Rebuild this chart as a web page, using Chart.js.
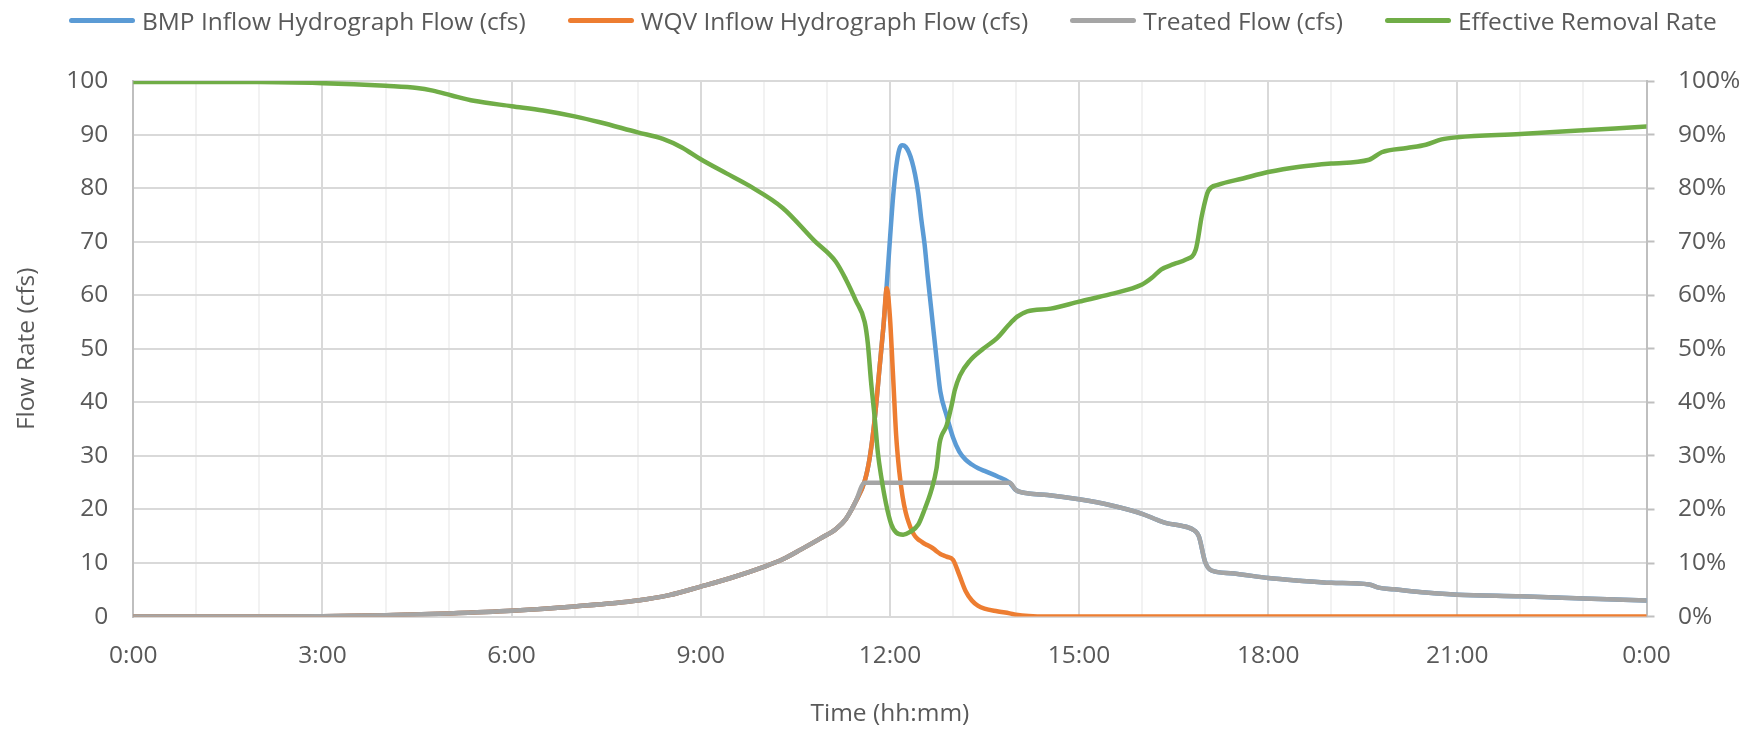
<!DOCTYPE html>
<html>
<head>
<meta charset="utf-8">
<title>BMP Hydrograph</title>
<script src="https://cdn.jsdelivr.net/npm/chart.js@4.4.1/dist/chart.umd.min.js"></script>
<style>
    html, body { margin: 0; padding: 0; background: #fff; }
    .chart-wrap { position: relative; width: 1742px; height: 732px; }
    #legend {
        position: absolute; top: 5px; left: 69px; height: 30px;
        margin: 0; padding: 0; list-style: none;
        display: flex; align-items: center; white-space: nowrap;
        font: 24.5px 'Open Sans', sans-serif; color: #595959;
    }
    #legend li { display: flex; align-items: center; margin-right: 42px; }
    #legend .swatch { width: 66px; height: 5px; border-radius: 3px; margin-right: 7px; }
</style>
</head>
<body>
<div class="chart-wrap">
    <ul id="legend"></ul>
    <canvas id="chart"></canvas>
</div>
<script>
// time of day in hours, shared by the three flow series
const flowHours = [
    0, 2, 3, 4, 5, 6, 7, 8, 8.5, 9,
    9.5, 10, 10.3, 10.6, 10.9, 11.15, 11.3, 11.45, 11.6, 11.68,
    11.76, 11.84, 11.9, 11.95, 12, 12.05, 12.1, 12.15, 12.2, 12.25,
    12.3, 12.35, 12.4, 12.45, 12.5, 12.55, 12.6, 12.65, 12.7, 12.75,
    12.8, 12.9, 13, 13.1, 13.2, 13.3, 13.4, 13.5, 13.7, 13.9,
    14, 14.2, 14.5, 15, 15.5, 16, 16.25, 16.4, 16.6, 16.8,
    16.9, 17, 17.1, 17.4, 18, 18.5, 19, 19.6, 19.75, 20,
    20.5, 21, 22, 23, 24
];

// cfs
const bmpInflow = [
    0, 0, 0.05, 0.25, 0.6, 1.1, 1.9, 3.0, 4.0, 5.6,
    7.3, 9.3, 10.7, 12.6, 14.6, 16.4, 18.2, 21.3, 25.3, 29.7,
    37, 47, 54.5, 62, 70.3, 78.3, 84, 87.3, 88, 87.7,
    86.7, 85, 82.5, 79, 74, 69.5, 63.5, 58, 52.5, 47,
    42, 37.5, 33.5, 30.8, 29.3, 28.4, 27.7, 27.2, 26.2, 25,
    23.6, 23.0, 22.7, 21.9, 20.8, 19.2, 18.0, 17.4, 17.0, 16.3,
    15.0, 10.2, 8.6, 8.1, 7.2, 6.7, 6.3, 6.0, 5.4, 5.1,
    4.5, 4.1, 3.8, 3.4, 3.0
];

const wqvInflow = [
    0, 0, 0.05, 0.25, 0.6, 1.1, 1.9, 3.0, 4.0, 5.6,
    7.3, 9.3, 10.7, 12.6, 14.6, 16.4, 18.2, 21.3, 25.3, 29.7,
    37, 47, 54.5, 61.3, 56, 45, 33.7, 27, 22.5, 19.5,
    17.5, 16.0, 15.0, 14.4, 14.0, 13.6, 13.3, 13.0, 12.6, 12.1,
    11.7, 11.2, 10.6, 7.8, 4.8, 3.0, 2.0, 1.5, 1.0, 0.6,
    0.35, 0.1, 0, 0, 0, 0, 0, 0, 0, 0,
    0, 0, 0, 0, 0, 0, 0, 0, 0, 0,
    0, 0, 0, 0, 0
];

const treatedFlow = [
    0, 0, 0.05, 0.25, 0.6, 1.1, 1.9, 3.0, 4.0, 5.6,
    7.3, 9.3, 10.7, 12.6, 14.6, 16.4, 18.2, 21.3, 25, 25,
    25, 25, 25, 25, 25, 25, 25, 25, 25, 25,
    25, 25, 25, 25, 25, 25, 25, 25, 25, 25,
    25, 25, 25, 25, 25, 25, 25, 25, 25, 25,
    23.6, 23.0, 22.7, 21.9, 20.8, 19.2, 18.0, 17.4, 17.0, 16.3,
    15.0, 10.2, 8.6, 8.1, 7.2, 6.7, 6.3, 6.0, 5.4, 5.1,
    4.5, 4.1, 3.8, 3.4, 3.0
];

// removal rate has its own time steps (percent)
const removalHours = [
    0, 1, 2, 3, 3.5, 4, 4.5, 4.75, 5.05, 5.4,
    6, 6.5, 7, 7.4, 8, 8.4, 8.7, 9, 9.4, 9.76,
    10.3, 10.8, 11.14, 11.3, 11.46, 11.6, 11.65, 11.7, 11.76, 11.81,
    11.86, 11.94, 12.02, 12.1, 12.21, 12.32, 12.45, 12.55, 12.66, 12.74,
    12.79, 12.9, 12.98, 13.03, 13.11, 13.27, 13.48, 13.7, 13.88, 14.02,
    14.18, 14.55, 15, 15.5, 16, 16.15, 16.3, 16.5, 16.7, 16.85,
    16.95, 17.05, 17.2, 17.6, 18, 18.5, 19, 19.6, 19.8, 20.2,
    20.5, 20.75, 21, 22, 23, 24
];

const removalRate = [
    99.8, 99.8, 99.8, 99.6, 99.4, 99.1, 98.7, 98.2, 97.3, 96.3,
    95.3, 94.5, 93.4, 92.3, 90.4, 89.2, 87.6, 85.4, 82.8, 80.5,
    76.3, 70.2, 66.3, 63.0, 59.0, 55.0, 51.0, 44.0, 37.0, 30.5,
    26.3, 21.0, 17.3, 15.7, 15.3, 15.8, 17.2, 20.0, 23.7, 27.7,
    32.5, 35.7, 39.5, 42.3, 45.0, 47.8, 50.0, 52.0, 54.4, 56.0,
    57.0, 57.5, 58.8, 60.2, 62.0, 63.2, 64.8, 65.8, 66.7, 68.5,
    75.0, 79.5, 80.6, 81.8, 83.0, 84.0, 84.6, 85.3, 86.7, 87.5,
    88.1, 89.1, 89.5, 90.1, 90.8, 91.5
];

const seriesNames = [
    'BMP Inflow Hydrograph Flow (cfs)',
    'WQV Inflow Hydrograph Flow (cfs)',
    'Treated Flow (cfs)',
    'Effective Removal Rate'
];

const textColor = '#595959';
const fontFamily = "'Open Sans', sans-serif";

const toPoints = (hours, values) => values.map((y, i) => ({ x: hours[i], y }));

const lineStyle = (color) => ({
    borderColor: color,
    backgroundColor: color,
    borderWidth: 4.5,
    borderCapStyle: 'round',
    borderJoinStyle: 'round',
    pointRadius: 0,
    cubicInterpolationMode: 'monotone',
    fill: false
});

// builds the legend list above the canvas from the chart's own label items
const htmlLegend = {
    id: 'htmlLegend',
    afterUpdate(chart) {
        const list = document.getElementById('legend');
        list.innerHTML = '';
        
        const items = chart.options.plugins.legend.labels.generateLabels(chart)
            .sort((a, b) => a.datasetIndex - b.datasetIndex);
        
        for (let item of items) {
            const li = document.createElement('li');
            const swatch = document.createElement('span');
            swatch.className = 'swatch';
            swatch.style.background = item.strokeStyle;
            li.appendChild(swatch);
            li.appendChild(document.createTextNode(item.text));
            list.appendChild(li);
        }
    }
};

Chart.defaults.font.family = fontFamily;
Chart.defaults.color = textColor;

const tickFont = { family: fontFamily, size: 24.5 };
const titleFont = { family: fontFamily, size: 24.5 };

new Chart(document.getElementById('chart'), {
    type: 'line',
    data: {
        datasets: [
            { label: seriesNames[0], data: toPoints(flowHours, bmpInflow), yAxisID: 'y', order: 4, ...lineStyle('#5b9bd5') },
            { label: seriesNames[1], data: toPoints(flowHours, wqvInflow), yAxisID: 'y', order: 3, ...lineStyle('#ed7d31') },
            { label: seriesNames[2], data: toPoints(flowHours, treatedFlow), yAxisID: 'y', order: 2, ...lineStyle('#a5a5a5') },
            { label: seriesNames[3], data: toPoints(removalHours, removalRate), yAxisID: 'y1', order: 1, ...lineStyle('#70ad47') }
        ]
    },
    options: {
        responsive: true,
        maintainAspectRatio: false,
        animation: false,
        events: [],
        layout: { padding: { top: 81, right: 0, bottom: 0, left: 0 } },
        plugins: {
            legend: { display: false },
            tooltip: { enabled: false }
        },
        scales: {
            x: {
                type: 'linear',
                min: 0,
                max: 24,
                afterFit: (scale) => { scale.height = 115.4; },
                ticks: {
                    stepSize: 1,
                    autoSkip: false,
                    maxRotation: 0,
                    padding: 24.5,
                    font: tickFont,
                    color: textColor,
                    callback: (value) => (value % 3 === 0 ? `${value % 24}:00` : '')
                },
                grid: {
                    drawTicks: false,
                    lineWidth: 2,
                    color: (ctx) => (ctx.tick && ctx.tick.value % 3 === 0 ? '#d9d9d9' : '#f2f2f2')
                },
                border: { color: '#d9d9d9', width: 2 },
                title: {
                    display: true,
                    text: 'Time (hh:mm)',
                    font: titleFont,
                    color: textColor,
                    padding: { top: 0, bottom: 3 }
                }
            },
            y: {
                position: 'left',
                min: 0,
                max: 100,
                afterFit: (scale) => { scale.width = 133.3; },
                ticks: { stepSize: 10, padding: 25, font: tickFont, color: textColor },
                grid: { drawTicks: false, lineWidth: 2, color: '#d9d9d9' },
                border: { color: '#bfbfbf', width: 2 },
                title: {
                    display: true,
                    text: 'Flow Rate (cfs)',
                    font: titleFont,
                    color: textColor,
                    padding: { top: 12, bottom: 0 }
                }
            },
            y1: {
                position: 'right',
                min: 0,
                max: 100,
                afterFit: (scale) => { scale.width = 95.5; },
                ticks: {
                    stepSize: 10,
                    padding: 23.5,
                    font: tickFont,
                    color: textColor,
                    callback: (value) => `${value}%`
                },
                grid: {
                    drawOnChartArea: false,
                    drawTicks: true,
                    tickLength: 8,
                    tickWidth: 2,
                    tickColor: '#bfbfbf'
                },
                border: { color: '#bfbfbf', width: 2 }
            }
        }
    },
    plugins: [htmlLegend]
});
</script>
</body>
</html>
